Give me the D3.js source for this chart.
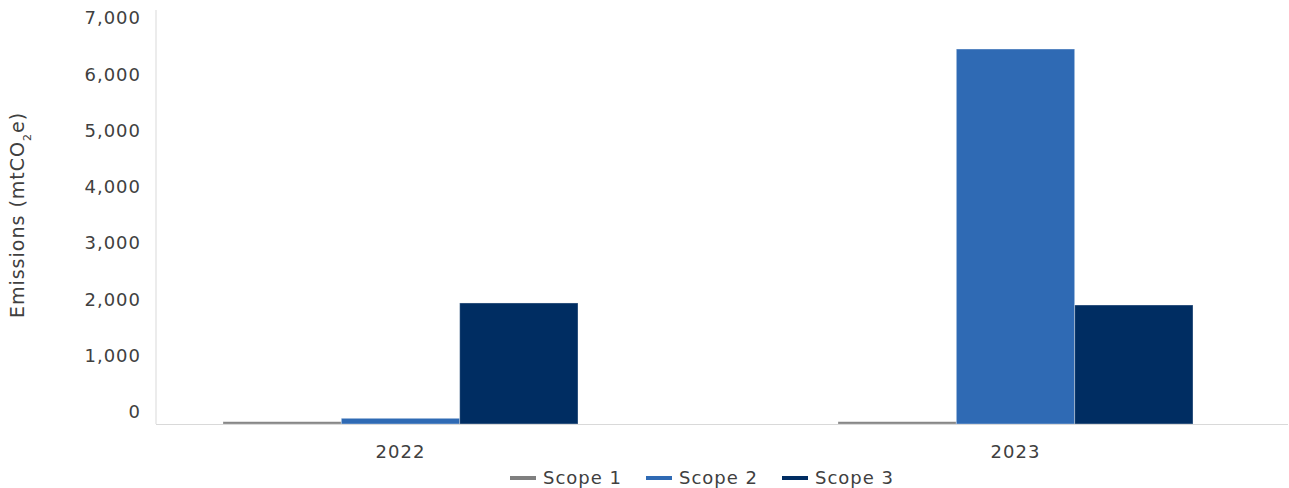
<!DOCTYPE html>
<html>
<head>
<style>
body { margin: 0; background: #fff; }
svg text { font-family: "DejaVu Sans", sans-serif; fill: #404040; letter-spacing: 1px; }
</style>
</head>
<body>
<svg id="chart"></svg>
<script src="https://cdnjs.cloudflare.com/ajax/libs/d3/7.8.5/d3.min.js"></script>
<script>
const years = ["2022", "2023"];
const seriesNames = ["Scope 1", "Scope 2", "Scope 3"];
const scope1 = [41, 41];
const scope2 = [101, 6662];
const scope3 = [2150, 2114];
const yTicks = [0, 1000, 2000, 3000, 4000, 5000, 6000, 7000];
const colors = ["#7f7f7f", "#2f6ab4", "#002d62"];

const width = 1289, height = 488;
const svg = d3.select("#chart").attr("width", width).attr("height", height);

const x0 = d3.scaleBand().domain(years).range([93, 1323])
    .paddingInner(260 / 615).paddingOuter(130 / 615);
const x1 = d3.scaleBand().domain(seriesNames).range([0, x0.bandwidth()]);
const y = d3.scaleLinear().domain([0, 7000]).range([424, 30]);

const values = [scope1, scope2, scope3];

// axis lines
svg.append("line").attr("x1", 156).attr("x2", 156).attr("y1", 10).attr("y2", y(0))
    .attr("stroke", "#d9d9d9").attr("stroke-width", 1);

// y tick labels (sit slightly above their value)
svg.selectAll(".ytick").data(yTicks).enter().append("text")
    .attr("class", "ytick")
    .attr("x", 141)
    .attr("y", d => y(d) - 12)
    .attr("dy", "0.35em")
    .attr("text-anchor", "end")
    .style("font-size", "18px")
    .text(d => d3.format(",")(d));

// bars
const groups = svg.selectAll(".yr").data(years).enter().append("g")
    .attr("transform", d => `translate(${x0(d)},0)`);
groups.selectAll("rect")
    .data((d, i) => seriesNames.map((s, j) => ({ s: s, v: values[j][i], c: colors[j] })))
    .enter().append("rect")
    .attr("x", d => x1(d.s))
    .attr("width", x1.bandwidth())
    .attr("y", d => y(d.v))
    .attr("height", d => y(0) - y(d.v))
    .attr("fill", d => d.c)
    .attr("stroke", "rgba(255,255,255,0.35)")
    .attr("stroke-width", 1);

svg.append("line").attr("x1", 156).attr("x2", 1288).attr("y1", y(0) + 0.5).attr("y2", y(0) + 0.5)
    .attr("stroke", "#d9d9d9").attr("stroke-width", 1);

// x labels
svg.selectAll(".xlab").data(years).enter().append("text")
    .attr("x", d => x0(d) + x0.bandwidth() / 2)
    .attr("y", 452)
    .attr("dy", "0.35em")
    .attr("text-anchor", "middle")
    .style("font-size", "18px")
    .text(d => d);

// y title
const yt = svg.append("text")
    .attr("transform", "translate(24,215) rotate(-90)")
    .attr("text-anchor", "middle")
    .style("font-size", "19px");
yt.append("tspan").text("Emissions (mtCO");
yt.append("tspan").attr("baseline-shift", "sub").style("font-size", "11px").text("2");
yt.append("tspan").text("e)");

// legend
const legX = [510, 646, 782];
const leg = svg.selectAll(".leg").data(seriesNames).enter().append("g")
    .attr("transform", (d, i) => `translate(${legX[i]},478)`);
leg.append("line").attr("x1", 0).attr("x2", 26).attr("y1", 0).attr("y2", 0)
    .attr("stroke", (d, i) => colors[i]).attr("stroke-width", 4);
leg.append("text").attr("x", 33).attr("dy", "0.35em")
    .style("font-size", "18px").text(d => d);
</script>
</body>
</html>
